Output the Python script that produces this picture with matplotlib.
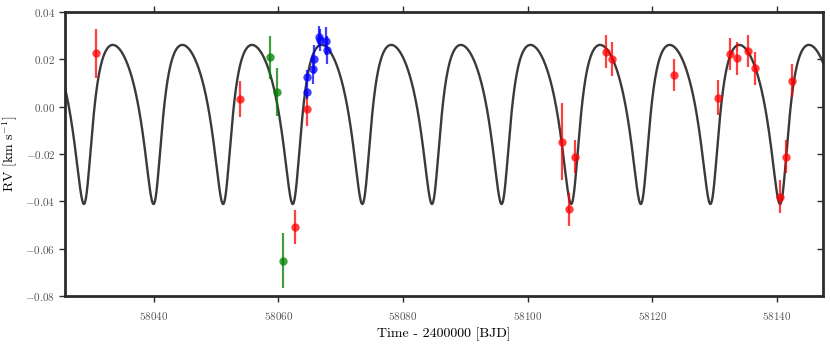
import numpy as np
import matplotlib
matplotlib.use("Agg")
import matplotlib.pyplot as plt

plt.rcParams['font.family'] = 'serif'
plt.rcParams['font.serif'] = ['cmr10']
plt.rcParams['mathtext.fontset'] = 'cm'
plt.rcParams['axes.formatter.use_mathtext'] = True

# ---- data ----
red_t = [58030.8, 58053.8, 58062.7, 58064.7, 58105.55, 58106.67, 58107.63, 58112.6,
         58113.6, 58123.56, 58130.5, 58132.5, 58133.6, 58135.4, 58136.5, 58140.5,
         58141.4, 58142.4]
red_v = [0.0225, 0.0032, -0.0509, -0.0011, -0.0148, -0.0433, -0.0211, 0.0231,
         0.0201, 0.0133, 0.0037, 0.0222, 0.0204, 0.0234, 0.0161, -0.0380,
         -0.0211, 0.0109]
red_e = [0.0103, 0.0074, 0.0072, 0.0073, 0.0162, 0.0069, 0.0070, 0.0070,
         0.0072, 0.0069, 0.0074, 0.0068, 0.0070, 0.0069, 0.0070, 0.0070,
         0.0070, 0.0069]

green_t = [58058.7, 58059.84, 58060.75]
green_v = [0.0208, 0.0061, -0.0650]
green_e = [0.0090, 0.0100, 0.0116]

blue_t = [58064.65, 58064.7, 58065.6, 58065.7, 58066.55, 58066.65, 58067.75, 58067.85]
blue_v = [0.0060, 0.0123, 0.0157, 0.0199, 0.0295, 0.0281, 0.0276, 0.0238]
blue_e = [0.003, 0.003, 0.006, 0.006, 0.0045, 0.0045, 0.006, 0.006]

# Keplerian model parameters
period = 11.167
t_min = 58040.0
ecc = 0.34
omega = np.deg2rad(202.0)
rv_max = 0.026
rv_min = -0.0411

x_ticks = [58040, 58060, 58080, 58100, 58120, 58140]
y_ticks = [0.04, 0.02, 0.00, -0.02, -0.04, -0.06, -0.08]


def kepler_E(M, e):
    E = M.copy()
    for _ in range(50):
        E = E - (E - e * np.sin(E) - M) / (1 - e * np.cos(E))
    return E


# time of periastron so that the RV minimum falls at t_min
nu_min = np.pi - omega
E_min = 2 * np.arctan(np.sqrt((1 - ecc) / (1 + ecc)) * np.tan(nu_min / 2))
M_min = E_min - ecc * np.sin(E_min)
Tp = t_min - M_min * period / (2 * np.pi)

all_t = red_t + green_t + blue_t
xlo, xhi = min(all_t) - 5, max(all_t) + 5
tt = np.linspace(xlo, xhi, 4000)
M = 2 * np.pi * (tt - Tp) / period
M = np.mod(M + np.pi, 2 * np.pi) - np.pi
E = kepler_E(M, ecc)
nu = 2 * np.arctan(np.sqrt((1 + ecc) / (1 - ecc)) * np.tan(E / 2))
K = (rv_max - rv_min) / 2
mid = (rv_max + rv_min) / 2
model = mid + K * np.cos(nu + omega)

fig = plt.figure(figsize=(8.3, 3.44), dpi=100)
ax = fig.add_axes([65 / 830, (344 - 296.3) / 344, (823 - 65) / 830, (296.3 - 11.7) / 344])

ax.plot(tt, model, color='#3a3a3a', lw=1.7, zorder=1)

kw = dict(fmt='o', ms=6, elinewidth=1.6, capsize=0, alpha=0.75, mew=0, zorder=3)
ax.errorbar(red_t, red_v, yerr=red_e, color='red', **kw)
ax.errorbar(green_t, green_v, yerr=green_e, color='green', **kw)
ax.errorbar(blue_t, blue_v, yerr=blue_e, color='blue', **kw)

ax.set_xlim(xlo, xhi)
ax.set_ylim(-0.08, 0.04)
ax.set_xticks(x_ticks)
ax.set_yticks(y_ticks)
ax.set_yticklabels([f"${v:.2f}$" for v in y_ticks])
ax.set_xticklabels([f"${v}$" for v in x_ticks])

for s in ax.spines.values():
    s.set_linewidth(2.0)
    s.set_color('#2b2b2b')

ax.tick_params(axis='both', which='major', direction='out', length=4, width=1,
               color='#2b2b2b', labelsize=8, labelcolor='#555555', top=True, right=True)
ax.yaxis.set_tick_params(which='major', pad=3)
ax.xaxis.set_tick_params(which='major', pad=6)
# right ticks point inward
for t in ax.yaxis.get_major_ticks():
    t.tick2line.set_marker(matplotlib.lines.TICKLEFT)

ax.set_xlabel('Time - 2400000 [BJD]', fontsize=10)
ax.set_ylabel(r'RV [km s$^{-1}$]', fontsize=10)

fig.savefig('out.png', dpi=100)
